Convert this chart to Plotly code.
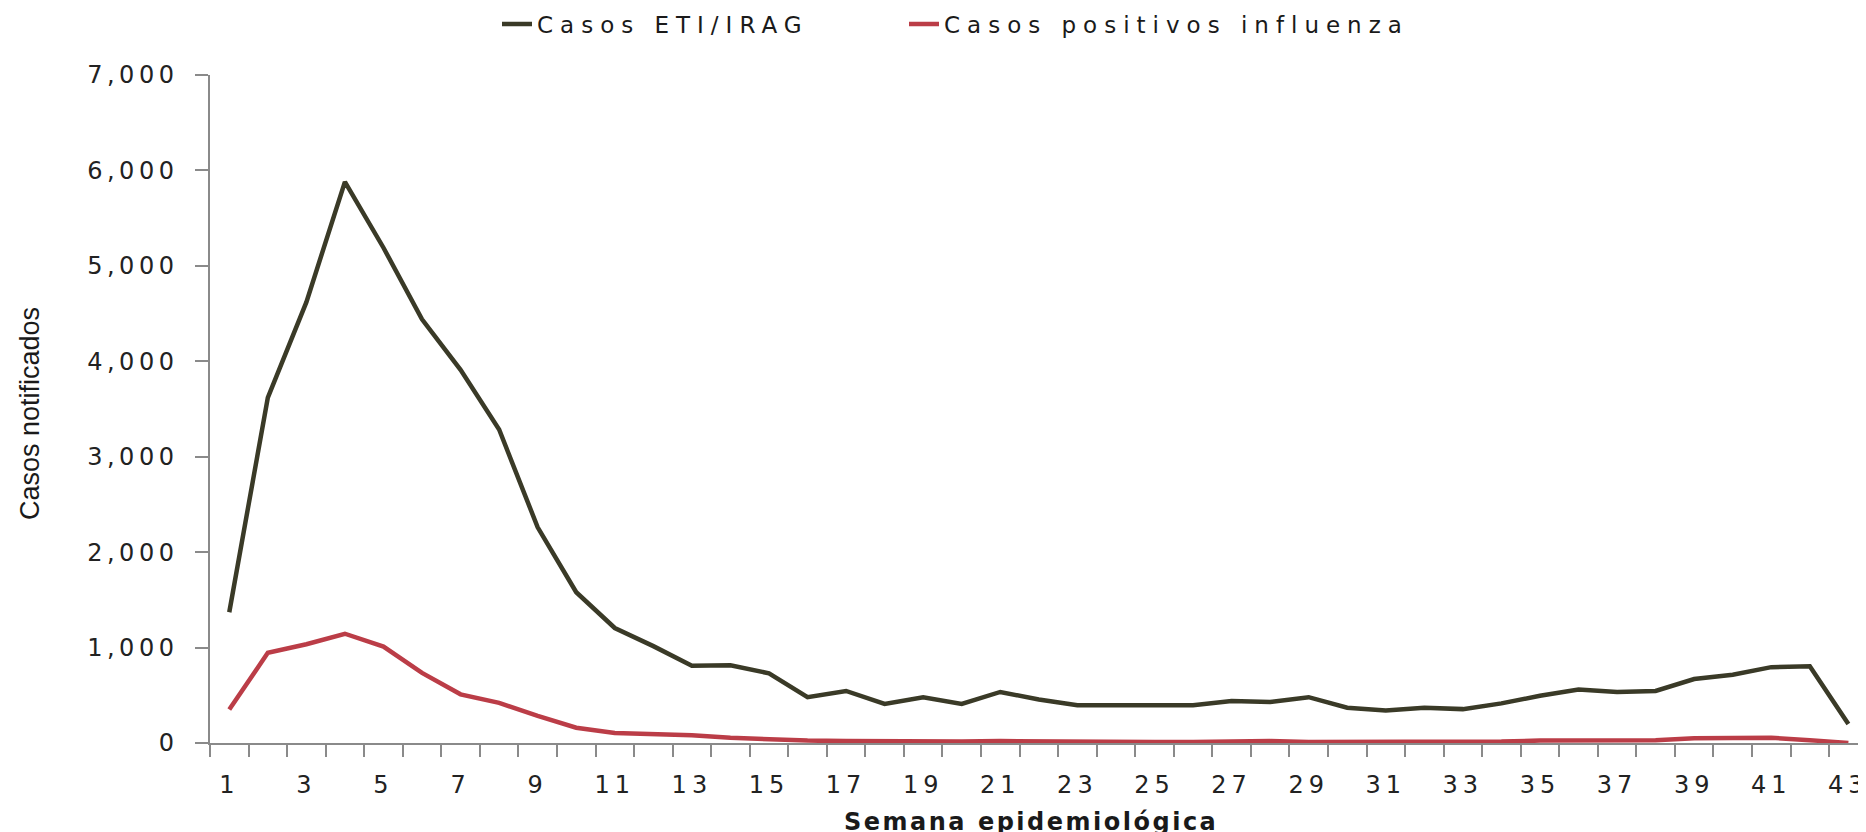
import plotly.graph_objects as go

weeks = list(range(1, 44))
eti_irag = [1370, 3620, 4620, 5880, 5190, 4440, 3910, 3285, 2260, 1580,
            1205, 1015, 810, 815, 730, 480, 545, 410, 480, 410,
            535, 455, 395, 395, 395, 395, 440, 430, 480, 370,
            340, 370, 355, 415, 495, 560, 535, 545, 670, 715,
            795, 805, 200]
influenza = [350, 945, 1035, 1145, 1010, 735, 510, 420, 285, 160,
             105, 95, 80, 55, 35, 25, 20, 15, 15, 15,
             20, 15, 10, 10, 10, 10, 15, 20, 10, 10,
             10, 10, 10, 15, 25, 30, 35, 30, 50, 55,
             55, 30, 0]
series_names = ["Casos ETI/IRAG", "Casos positivos influenza"]
series_colors = ["#3a3a27", "#bb3d47"]
y_ticks = [0, 1000, 2000, 3000, 4000, 5000, 6000, 7000]
x_tick_weeks = list(range(1, 44, 2))
x_title = "Semana epidemiológica"
y_title = "Casos notificados"

# The page body has an 8px default margin; size the figure so it fills the window.
OFF = 8
W, H = 1866 - OFF, 832 - OFF
AX_X, AX_TOP, AX_BOT = 210, 75, 743          # target window coords of plot area
L, T = AX_X - OFF, AX_TOP - OFF
B = H - (AX_BOT - OFF)
R = 0
pw = W - L - R
ph = H - T - B


def sp(txt, ls):
    return f'<span style="letter-spacing:{ls}px">{txt}</span>'


legend_ids = ["legend", "legend2"]
legend_item_x = [497, 904]  # window x of each legend item's origin

fig = go.Figure()
for name, vals, col, lid in zip(series_names, [eti_irag, influenza], series_colors, legend_ids):
    fig.add_trace(go.Scatter(x=weeks, y=vals, mode="lines", name=sp(name, 7),
                             legend=lid, line=dict(color=col, width=4.5)))

x_end = 0.5 + pw / 38.55
leg_y = (AX_BOT - 24) / (AX_BOT - AX_TOP)
leg_font = dict(family="DejaVu Sans", size=23, color="#1a1a1a")

fig.update_layout(
    width=W, height=H,
    margin=dict(l=L, r=R, t=T, b=B, autoexpand=False),
    paper_bgcolor="white", plot_bgcolor="white",
    showlegend=True,
    legend=dict(orientation="h", x=(legend_item_x[0] - AX_X) / pw, xanchor="left",
                y=leg_y, yanchor="middle", font=leg_font, bgcolor="rgba(0,0,0,0)"),
    legend2=dict(orientation="h", x=(legend_item_x[1] - AX_X) / pw, xanchor="left",
                 y=leg_y, yanchor="middle", font=leg_font, bgcolor="rgba(0,0,0,0)"),
    xaxis=dict(range=[0.5, x_end], showgrid=False, zeroline=False,
               showline=True, linecolor="#8a8a8a", linewidth=1.5,
               tickmode="array", tickvals=x_tick_weeks,
               ticktext=[sp(str(v), 5) for v in x_tick_weeks],
               ticks="outside", ticklen=12, tickcolor="rgba(0,0,0,0)",
               ticklabelstandoff=7, ticklabeloverflow="allow",
               minor=dict(tickmode="array",
                          tickvals=[w - 0.5 for w in weeks] + [weeks[-1] + 0.5],
                          ticks="outside", ticklen=12, tickcolor="#8a8a8a",
                          tickwidth=1.5, showgrid=False),
               tickfont=dict(family="DejaVu Sans", size=24, color="#222222")),
    yaxis=dict(range=[0, 7000], showgrid=False, zeroline=False,
               showline=True, linecolor="#8a8a8a", linewidth=1.5,
               tickmode="array", tickvals=y_ticks,
               ticktext=[sp(f"{v:,}", 4.5) for v in y_ticks],
               ticks="outside", ticklen=13, tickcolor="#8a8a8a", tickwidth=1.5,
               ticklabelstandoff=12,
               tickfont=dict(family="DejaVu Sans", size=24, color="#222222")),
)

fig.add_annotation(text=sp(x_title, 2.5), xref="paper", yref="paper",
                   x=(1031 - AX_X) / pw, y=0, yshift=-(822 - AX_BOT),
                   xanchor="center", yanchor="middle", showarrow=False,
                   font=dict(family="DejaVu Sans", size=24, color="#1a1a1a", weight="bold"))
fig.add_annotation(text=y_title, xref="paper", yref="paper",
                   x=0, xshift=30 - AX_X, y=(AX_BOT - 414) / (AX_BOT - AX_TOP), textangle=-90,
                   xanchor="center", yanchor="middle", showarrow=False,
                   font=dict(family="Liberation Sans", size=27, color="#1a1a1a"))

fig.write_html("out.html")
